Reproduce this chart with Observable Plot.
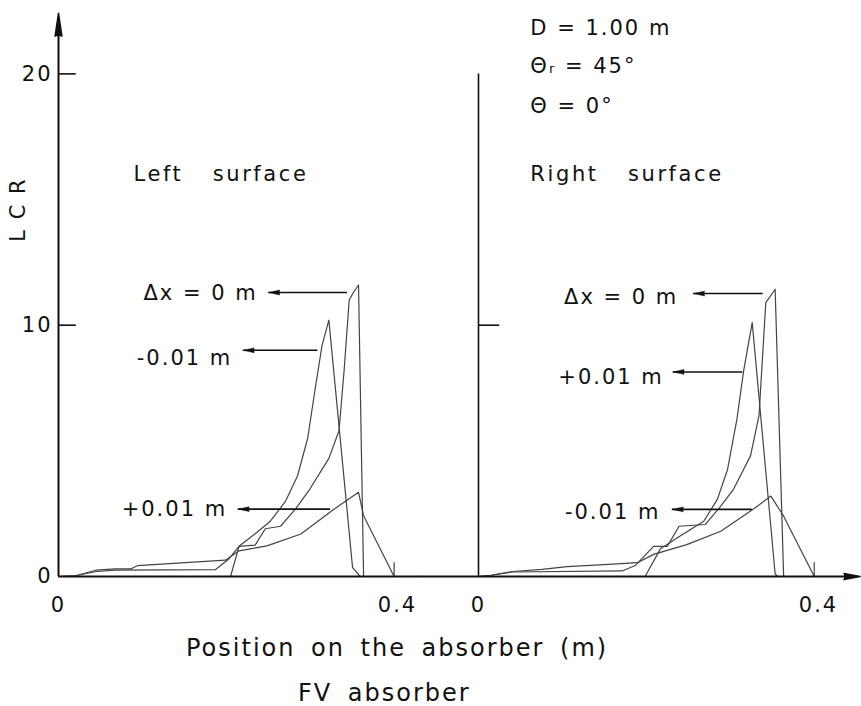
<!DOCTYPE html>
<html><head><meta charset="utf-8">
<script src="https://cdn.jsdelivr.net/npm/d3@7"></script>
<script src="https://cdn.jsdelivr.net/npm/@observablehq/plot@0.6"></script>
<style>
html,body{margin:0;padding:0;background:#fff;}
#chart{position:relative;width:861px;height:706px;font-family:"DejaVu Sans",sans-serif;color:#111;overflow:hidden;}
#chart svg{position:absolute;top:0;}
.cap{position:absolute;font-size:24px;line-height:24px;letter-spacing:2px;word-spacing:6px;white-space:nowrap;color:#111;}
</style></head><body><div id="chart"></div>
<script>
// ---- data ----
const positionTicks = [0, 0.4];
const lcrTicks = [0, 10, 20];
const panelTitles = ["Left surface", "Right surface"];
const parameterLines = ["D = 1.00 m", "Θᵣ = 45°", "Θ = 0°"];
const leftSeriesNames = ["Δx = 0 m", "-0.01 m", "+0.01 m"];
const rightSeriesNames = ["Δx = 0 m", "+0.01 m", "-0.01 m"];

// Left surface  [position (m), LCR]
const leftZero = [[0,0],[0.02,0.03],[0.045,0.2],[0.067,0.25],[0.185,0.27],[0.201,0.7],[0.213,1.2],[0.232,1.25],[0.244,1.9],[0.262,2.0],[0.28,2.7],[0.297,3.5],[0.319,4.7],[0.331,5.8],[0.337,8.2],[0.343,11.0],[0.348,11.3],[0.354,11.6],[0.360,0]];
const leftMinus = [[0,0],[0.203,0],[0.213,1.2],[0.232,1.7],[0.25,2.2],[0.268,3.0],[0.282,4.0],[0.294,5.5],[0.303,7.5],[0.311,9.2],[0.319,10.2],[0.347,0.35],[0.356,0]];
const leftPlus = [[0,0],[0.02,0.03],[0.044,0.25],[0.067,0.3],[0.085,0.3],[0.093,0.43],[0.197,0.65],[0.213,1.02],[0.246,1.22],[0.286,1.69],[0.325,2.68],[0.354,3.35],[0.360,2.42],[0.396,0],[0.396,0.55]];

// Right surface
const rightZero = [[0,0],[0.015,0.05],[0.04,0.18],[0.169,0.22],[0.185,0.45],[0.206,1.2],[0.222,1.2],[0.236,2.0],[0.267,2.07],[0.285,2.8],[0.300,3.47],[0.320,4.8],[0.330,6.4],[0.338,10.9],[0.349,11.43],[0.359,0]];
const rightPlus = [[0,0],[0.196,0],[0.214,1.1],[0.234,1.54],[0.265,2.2],[0.281,3.07],[0.293,4.26],[0.304,6.25],[0.312,8.2],[0.322,10.1],[0.349,0.1],[0.352,0]];
const rightMinus = [[0,0],[0.015,0.05],[0.04,0.2],[0.075,0.28],[0.104,0.39],[0.153,0.48],[0.187,0.55],[0.206,0.88],[0.245,1.27],[0.285,1.8],[0.324,2.7],[0.344,3.2],[0.359,2.4],[0.395,0],[0.395,0.55]];

// ---- layout ----
const ink = "#111", curveInk = "#444";
const yDomain = [0, 22.92];
const H = 620;

function rows(series, names) {
  return series.flatMap((s, i) => s.map(([x, y]) => ({x, y, series: names[i]})));
}

function panel({width, marginRight, series, names, notes, title, titleX, left}) {
  const data = rows(series, names);
  const marks = [
    Plot.line(data, {x: "x", y: "y", z: "series", stroke: curveInk, strokeWidth: 1.2}),
    // annotation leaders
    Plot.ruleY(notes, {y: "arrowY", x1: "from", x2: "to", stroke: ink, strokeWidth: 1.6}),
    Plot.vector(notes, {x: "from", y: "arrowY", rotate: -90, length: 11, r: 2.4, shape: "spike", anchor: "end", fill: ink, stroke: ink, strokeWidth: 0.5}),
    Plot.text(notes, {x: "textX", y: "textY", text: "label", textAnchor: "end", fill: ink}),
    Plot.text([title], {x: titleX, y: 16.0, textAnchor: "start", fill: ink}),
    Plot.axisX({ticks: positionTicks, tickSize: 0, tickPadding: 21, tickFormat: d => d === 0 ? "0" : "0.4", label: null, fill: ink})
  ];
  if (left) {
    marks.push(
      Plot.ruleY([0], {x1: 0, x2: 0.4275, stroke: ink, strokeWidth: 2}),
      Plot.ruleX([0], {y1: 0, y2: 21.8, stroke: ink, strokeWidth: 2}),
      Plot.vector([0], {x: 0, y: 21.5, rotate: 0, length: 23, r: 3.4, shape: "spike", anchor: "start", fill: ink, stroke: ink}),
      Plot.ruleY([10, 20], {x1: 0, x2: 0.021, stroke: ink, strokeWidth: 1.6}),
      Plot.axisY({ticks: lcrTicks, tickSize: 0, tickPadding: 6, label: null, fill: ink}),
      Plot.text(["L C R"], {x: -0.048, y: 14.6, rotate: -90, fill: ink})
    );
  } else {
    marks.push(
      Plot.ruleY([0], {x1: -0.0685, x2: 0.432, stroke: ink, strokeWidth: 2}),
      Plot.vector([0], {x: 0.43, y: 0, rotate: 90, length: 16, r: 3, shape: "spike", anchor: "start", fill: ink, stroke: ink}),
      Plot.ruleX([0], {y1: 0, y2: 20, stroke: ink, strokeWidth: 1.6}),
      Plot.ruleY([10], {x1: 0, x2: 0.025, stroke: ink, strokeWidth: 1.6}),
      Plot.text(parameterLines, {x: 0.061, y: (d, i) => [21.8, 20.3, 18.7][i], textAnchor: "start", fill: ink})
    );
  }
  const svg = Plot.plot({
    width, height: H,
    marginLeft: 58, marginRight, marginTop: 0, marginBottom: H - 576,
    x: {domain: [0, 0.4]},
    y: {domain: yDomain, axis: left ? undefined : null},
    style: {fontFamily: "DejaVu Sans, sans-serif", fontSize: "21px", letterSpacing: "2px", background: "transparent", overflow: "visible"},
    marks
  });
  // wide word gap of the panel titles, as lettered on the original
  d3.select(svg).selectAll("text").filter(function() { return panelTitles.includes(this.textContent); })
    .style("word-spacing", "20px").style("letter-spacing", "2.6px");
  return svg;
}

const leftNotes = [
  {label: leftSeriesNames[0], textX: 0.235, textY: 11.26, from: 0.248, to: 0.341, arrowY: 11.3},
  {label: leftSeriesNames[1], textX: 0.205, textY: 8.7, from: 0.218, to: 0.306, arrowY: 9.0},
  {label: leftSeriesNames[2], textX: 0.199, textY: 2.66, from: 0.212, to: 0.321, arrowY: 2.68}
];
const rightNotes = [
  {label: rightSeriesNames[0], textX: 0.235, textY: 11.1, from: 0.253, to: 0.335, arrowY: 11.26},
  {label: rightSeriesNames[1], textX: 0.218, textY: 7.93, from: 0.229, to: 0.311, arrowY: 8.14},
  {label: rightSeriesNames[2], textX: 0.214, textY: 2.55, from: 0.228, to: 0.322, arrowY: 2.67}
];

const chart = document.getElementById("chart");
const leftSvg = panel({width: 420, marginRight: 23, series: [leftZero, leftMinus, leftPlus], names: leftSeriesNames, notes: leftNotes, title: panelTitles[0], titleX: 0.0885, left: true});
leftSvg.style.left = "0px";
const rightSvg = panel({width: 441, marginRight: 43, series: [rightZero, rightPlus, rightMinus], names: rightSeriesNames, notes: rightNotes, title: panelTitles[1], titleX: 0.061, left: false});
rightSvg.style.left = "420px";
chart.append(leftSvg, rightSvg);

const cap1 = document.createElement("div");
cap1.className = "cap"; cap1.textContent = "Position on the absorber (m)";
cap1.style.left = "186px"; cap1.style.top = "636px";
const cap2 = document.createElement("div");
cap2.className = "cap"; cap2.textContent = "FV absorber";
cap2.style.left = "298px"; cap2.style.top = "681px";
chart.append(cap1, cap2);
</script>
</body></html>
